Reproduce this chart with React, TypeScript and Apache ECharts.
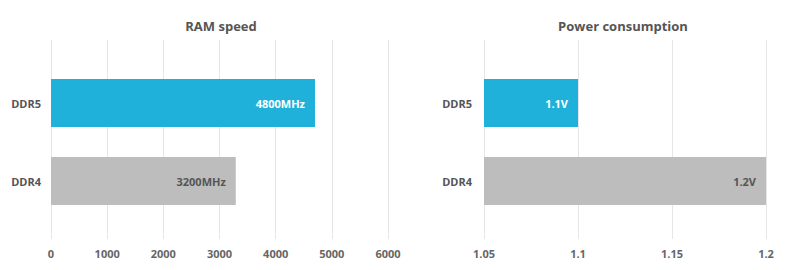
import React, { useEffect, useRef } from "react";
import * as echarts from "echarts";

const categories = ["DDR5", "DDR4"];
const speedValues = [4700, 3290];
const speedLabels = ["4800MHz", "3200MHz"];
const powerValues = [1.1, 1.2];
const powerLabels = ["1.1V", "1.2V"];
const speedTicks = { min: 0, max: 6000, interval: 1000 };
const powerTicks = { min: 1.05, max: 1.2, interval: 0.05 };
const titles = ["RAM speed", "Power consumption"];

const BLUE = "#1fb1d9";
const GRAY = "#bdbdbd";
const TXT = "#555555";
const FONT = "'Open Sans', 'Noto Sans', sans-serif";

export default function App() {
  const ref = useRef<HTMLDivElement>(null);
  useEffect(() => {
    if (!ref.current) return;
    const chart = echarts.init(ref.current, undefined, { renderer: "svg" });
    const barColors = [BLUE, GRAY];
    const labelColors = ["#ffffff", TXT];
    const mkBar = (vals: number[], labels: string[], idx: number) => ({
      type: "bar",
      xAxisIndex: idx,
      yAxisIndex: idx,
      barWidth: 48,
      data: vals.map((v, i) => ({
        value: v,
        itemStyle: { color: barColors[i] },
        label: {
          show: true,
          position: "insideRight",
          distance: 10,
          formatter: labels[i],
          color: labelColors[i],
          fontFamily: FONT,
          fontWeight: "bold",
          fontSize: 11,
        },
      })),
    });
    const gridAxis = (t: { min: number; max: number; interval: number }, idx: number) => ({
      type: "value",
      gridIndex: idx,
      min: t.min,
      max: t.max,
      interval: t.interval,
      axisLine: { show: false },
      axisTick: { show: false },
      splitLine: { show: true, lineStyle: { color: "#e6e6e6", width: 1 } },
      axisLabel: {
        margin: 9,
        color: "#666666",
        fontFamily: FONT,
        fontWeight: "bold",
        fontSize: 11,
        formatter: (v: number) => String(parseFloat(v.toFixed(4))),
      },
    });
    const hiddenX = (t: { min: number; max: number }, idx: number) => ({
      type: "value",
      gridIndex: idx,
      min: t.min,
      max: t.max,
      show: false,
    });
    const catY = (idx: number, margin: number) => ({
      type: "category",
      gridIndex: idx,
      data: categories,
      inverse: true,
      axisLine: { show: false },
      axisTick: { show: false },
      axisLabel: {
        margin,
        color: TXT,
        fontFamily: FONT,
        fontWeight: "bold",
        fontSize: 11,
      },
    });
    const titleStyle = { color: TXT, fontFamily: FONT, fontWeight: "bold", fontSize: 13 };
    chart.setOption({
      animation: false,
      title: [
        { text: titles[0], left: 216, top: 14, textAlign: "center", textStyle: titleStyle },
        { text: titles[1], left: 618, top: 14, textAlign: "center", textStyle: titleStyle },
      ],
      grid: [
        { left: 51, width: 337, top: 64, height: 156 },
        { left: 51, width: 337, top: 40, height: 199 },
        { left: 484, width: 282, top: 64, height: 156 },
        { left: 484, width: 282, top: 40, height: 199 },
      ],
      xAxis: [
        hiddenX(speedTicks, 0),
        gridAxis(speedTicks, 1),
        hiddenX(powerTicks, 2),
        gridAxis(powerTicks, 3),
      ],
      yAxis: [
        catY(0, 10),
        { type: "value", gridIndex: 1, show: false },
        catY(2, 12),
        { type: "value", gridIndex: 3, show: false },
      ],
      series: [mkBar(speedValues, speedLabels, 0), mkBar(powerValues, powerLabels, 2)],
    });
    return () => chart.dispose();
  }, []);
  return (
    <div
      ref={ref}
      style={{ position: "absolute", left: 0, top: 0, width: 788, height: 270, background: "#ffffff" }}
    />
  );
}
